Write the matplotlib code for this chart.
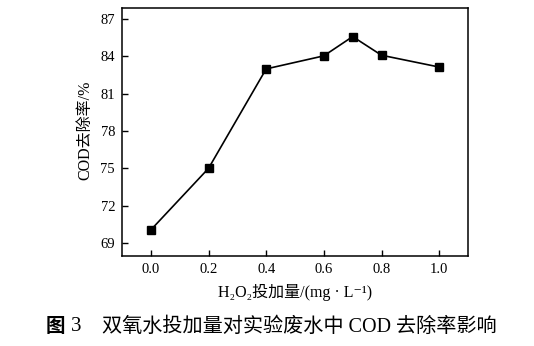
import matplotlib
matplotlib.use("Agg")
import matplotlib.pyplot as plt

# H2O2 dosage vs. COD removal rate
dosage = [0.0, 0.2, 0.4, 0.6, 0.7, 0.8, 1.0]
cod_removal = [70.05, 75.0, 83.0, 84.05, 85.6, 84.1, 83.15]
x_ticks = [0.0, 0.2, 0.4, 0.6, 0.8, 1.0]
y_ticks = [69, 72, 75, 78, 81, 84, 87]

serif = ["Liberation Serif", "Noto Sans CJK SC", "DejaVu Sans"]
cjk = ["Noto Sans CJK SC", "Liberation Serif", "DejaVu Sans"]

fig = plt.figure(figsize=(5.34, 3.46), dpi=100)
ax = fig.add_axes([0.2285, 0.2601, 0.6479, 0.7168])

ax.plot(dosage, cod_removal, color="black", linewidth=1.2,
        marker="s", markersize=6, markerfacecolor="black")

ax.set_xlim(-0.1, 1.1)
ax.set_ylim(67.95, 87.9)
ax.set_xticks(x_ticks)
ax.set_xticklabels([f"{v:.1f}" for v in x_ticks], family=serif, fontsize=10.5)
ax.set_yticks(y_ticks)
ax.set_yticklabels([str(v) for v in y_ticks], family=serif, fontsize=10.5)
ax.tick_params(direction="in", length=4, width=1, pad=5)
for s in ax.spines.values():
    s.set_linewidth(1.1)

fig.text(0.159, 0.622, "COD去除率/%", rotation=90, ha="center", va="center",
         family=serif, fontsize=11.5)
fig.text(0.553, 0.155, "H₂O₂投加量/(mg · L⁻¹)", ha="center", va="center",
         family=serif, fontsize=11.5)

fig.text(0.086, 0.055, "图", ha="left", va="center", family=cjk,
         fontsize=14, fontweight="bold")
fig.text(0.133, 0.055, "3", ha="left", va="center", family=serif,
         fontsize=15)
fig.text(0.191, 0.055, "双氧水投加量对实验废水中 COD 去除率影响", ha="left",
         va="center", family=serif, fontsize=14.5)

fig.savefig("out.png", dpi=100)
